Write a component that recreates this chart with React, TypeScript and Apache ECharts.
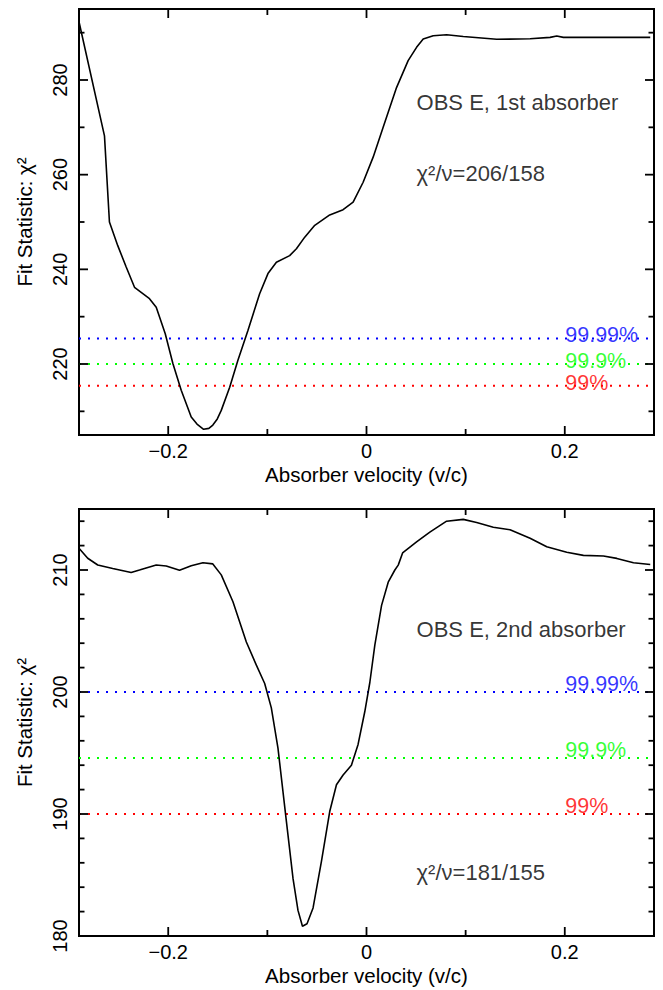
import React, { useEffect, useRef } from 'react';
import * as echarts from 'echarts';

// ---------- shared axis data ----------
const X_MIN = -0.29;
const X_MAX = 0.29;
const X_MAJOR = [-0.2, 0, 0.2];
const X_MINOR = [-0.1, 0.1];
const X_LABELS = [-0.2, 0, 0.2];
const X_NAME = 'Absorber velocity (v/c)';
const Y_NAME = 'Fit Statistic: χ²';

const LEVEL_NAMES = ['99%', '99.9%', '99.99%'];
const LEVEL_COLORS = ['#ff0000', '#00ff00', '#0000ff'];

// ---------- panel 1: 1st absorber ----------
const TOP_Y_MIN = 205;
const TOP_Y_MAX = 295;
const TOP_Y_MAJOR = [220, 240, 260, 280];
const TOP_Y_MINOR = [210, 230, 250, 270, 290];
const TOP_VEL = [
  -0.29, -0.2643, -0.2593, -0.2509, -0.2424, -0.234, -0.2189, -0.2121, -0.203, -0.1953,
  -0.1869, -0.1768, -0.171, -0.1643, -0.159, -0.155, -0.1505, -0.1465, -0.138, -0.1297,
  -0.1196, -0.1078, -0.0994, -0.0909, -0.0775, -0.0707, -0.0623, -0.0522, -0.0371, -0.0236,
  -0.0135, -0.0034, 0.0067, 0.0168, 0.0303, 0.042, 0.0505, 0.0572, 0.0673, 0.0808,
  0.0976, 0.1313, 0.165, 0.1852, 0.1919, 0.1986, 0.2323, 0.2862,
];
const TOP_CHI = [
  292.3, 268.2, 250.0, 245.0, 240.5, 236.2, 233.8, 232.0, 226.4, 220.1,
  214.45, 208.8, 207.3, 206.2, 206.4, 207.1, 208.4, 210.2, 215.1, 220.8,
  227.1, 234.85, 239.1, 241.5, 242.9, 244.35, 246.8, 249.3, 251.5, 252.6,
  254.2, 258.4, 263.7, 270.0, 278.4, 284.1, 286.9, 288.65, 289.35, 289.55,
  289.2, 288.6, 288.7, 289.0, 289.3, 289.0, 289.0, 289.0,
];
const TOP_LEVELS = [215.4, 220.0, 225.4];
const TOP_TITLE = 'OBS E, 1st absorber';
const TOP_FIT = 'χ²/ν=206/158';

// ---------- panel 2: 2nd absorber ----------
const BOT_Y_MIN = 180;
const BOT_Y_MAX = 215;
const BOT_Y_MAJOR = [180, 190, 200, 210];
const BOT_Y_MINOR = [182, 184, 186, 188, 192, 194, 196, 198, 202, 204, 206, 208, 212, 214];
const BOT_VEL = [
  -0.29, -0.2812, -0.2711, -0.256, -0.2374, -0.229, -0.2121, -0.202, -0.1886, -0.1768,
  -0.165, -0.155, -0.1465, -0.1347, -0.1212, -0.1111, -0.1027, -0.096, -0.0893, -0.0808,
  -0.0741, -0.0691, -0.0646, -0.06, -0.0539, -0.0455, -0.0371, -0.0303, -0.0236, -0.0152,
  -0.0085, -0.0017, 0.0034, 0.0084, 0.0152, 0.0219, 0.0286, 0.032, 0.0364, 0.0505,
  0.0639, 0.0808, 0.0976, 0.1111, 0.1279, 0.1448, 0.165, 0.1818, 0.202, 0.2188,
  0.239, 0.2525, 0.2693, 0.2862,
];
const BOT_CHI = [
  211.78, 210.96, 210.41, 210.13, 209.8, 210.0, 210.41, 210.33, 209.98, 210.35,
  210.6, 210.5, 209.6, 207.4, 204.1, 202.2, 200.7, 198.7, 195.4, 189.4,
  184.7, 182.1, 180.8, 181.0, 182.3, 186.1, 190.2, 192.4, 193.2, 194.0,
  195.7, 198.4, 200.8, 203.85, 207.1, 209.0, 210.0, 210.4, 211.4, 212.3,
  213.1, 214.0, 214.15, 213.9, 213.5, 213.3, 212.6, 211.9, 211.45, 211.2,
  211.15, 210.95, 210.6, 210.45,
];
const BOT_LEVELS = [190.0, 194.6, 200.0];
const BOT_TITLE = 'OBS E, 2nd absorber';
const BOT_FIT = 'χ²/ν=181/155';

// ---------- layout (not data) ----------
const FONT = 'Liberation Sans, Arial, Helvetica, sans-serif';
const NOTE_X = 0.05;
const LEVEL_LABEL_X = 0.2;
const MAJOR_LEN = 9;
const MINOR_LEN_X = 6;
const MINOR_LEN_Y = 5.5;
const TICK_W = 1.8;

type PanelCfg = {
  yMin: number; yMax: number; yMajor: number[]; yMinor: number[];
  vel: number[]; chi: number[]; levels: number[];
  title: string; fit: string; titleY: number; fitY: number; levelOffset: number;
};

function fmtX(v: number) {
  if (Math.abs(v) < 1e-9) return '0';
  return v < 0 ? '\u2212' + String(Math.abs(v)) : String(v);
}

// One custom series per frame edge: each item is one inward tick mark.
// edge: 'bottom' | 'top' | 'left' | 'right'
function tickSeries(g: number, cfg: PanelCfg, vals: number[], len: number, edge: string) {
  const midY = (cfg.yMin + cfg.yMax) / 2;
  const isX = edge === 'bottom' || edge === 'top';
  return {
    type: 'custom', xAxisIndex: g, yAxisIndex: g, clip: false, z: 10,
    data: vals.map((v) => (isX ? [v, midY] : [0, v])),
    renderItem: (_p: any, api: any) => {
      let x1 = 0, y1 = 0, x2 = 0, y2 = 0;
      if (isX) {
        const v = api.value(0);
        const p = api.coord([v, edge === 'bottom' ? cfg.yMin : cfg.yMax]);
        x1 = p[0]; y1 = p[1]; x2 = p[0];
        y2 = edge === 'bottom' ? p[1] - len : p[1] + len;
      } else {
        const v = api.value(1);
        const p = api.coord([edge === 'left' ? X_MIN : X_MAX, v]);
        x1 = p[0]; y1 = p[1]; y2 = p[1];
        x2 = edge === 'left' ? p[0] + len : p[0] - len;
      }
      return {
        type: 'line',
        shape: { x1, y1, x2, y2 },
        style: { stroke: '#000', lineWidth: TICK_W },
      };
    },
  };
}

function buildPanel(g: number, cfg: PanelCfg) {
  const xAxis = {
    gridIndex: g, type: 'value', min: X_MIN, max: X_MAX, position: 'bottom',
    splitLine: { show: false },
    axisLine: { show: true, onZero: false, lineStyle: { color: '#000', width: 2 } },
    axisTick: { show: false },
    axisLabel: {
      show: true, customValues: X_LABELS, formatter: fmtX, color: '#000', fontSize: 20,
      fontFamily: FONT, margin: 6,
    },
    name: X_NAME, nameLocation: 'middle', nameGap: 29, nameMoveOverlap: false,
    nameTextStyle: { color: '#000', fontSize: 20.5, fontFamily: FONT },
  };
  const yAxis = {
    gridIndex: g, type: 'value', min: cfg.yMin, max: cfg.yMax, position: 'left',
    splitLine: { show: false },
    axisLine: { show: true, onZero: false, lineStyle: { color: '#000', width: 2 } },
    axisTick: { show: false },
    axisLabel: {
      show: true, customValues: cfg.yMajor, rotate: 90, color: '#000', fontSize: 20,
      fontFamily: FONT, margin: 9,
    },
    name: Y_NAME, nameLocation: 'middle', nameGap: 44, nameMoveOverlap: false,
    nameTextStyle: { color: '#000', fontSize: 20.5, fontFamily: FONT },
  };

  const series: any[] = [];
  cfg.levels.forEach((lev, i) => {
    series.push({
      type: 'line', xAxisIndex: g, yAxisIndex: g, silent: true, symbol: 'none',
      data: [[X_MIN, lev], [X_MAX, lev]],
      lineStyle: { color: LEVEL_COLORS[i], width: 2, type: [2, 7], cap: 'butt' },
      z: 2,
    });
    series.push({
      type: 'scatter', xAxisIndex: g, yAxisIndex: g, silent: true,
      symbol: 'circle', symbolSize: 1, itemStyle: { color: 'rgba(0,0,0,0)' },
      data: [[LEVEL_LABEL_X, lev]],
      label: {
        show: true, position: 'right', distance: 0, offset: [0, cfg.levelOffset],
        formatter: LEVEL_NAMES[i], color: LEVEL_COLORS[i], fontSize: 21.5, fontFamily: FONT,
      },
      z: 4,
    });
  });
  series.push({
    type: 'line', xAxisIndex: g, yAxisIndex: g, silent: true, symbol: 'none',
    data: cfg.vel.map((v, i) => [v, cfg.chi[i]]),
    lineStyle: { color: '#000', width: 1.6 },
    z: 3,
  });
  series.push({
    type: 'scatter', xAxisIndex: g, yAxisIndex: g, silent: true,
    symbol: 'circle', symbolSize: 1, itemStyle: { color: 'rgba(0,0,0,0)' },
    data: [
      { value: [NOTE_X, cfg.titleY], name: cfg.title },
      { value: [NOTE_X, cfg.fitY], name: cfg.fit },
    ],
    label: {
      show: true, position: 'right', distance: 0, formatter: (p: any) => p.name,
      color: '#000', fontSize: 22, fontFamily: FONT,
    },
    z: 4,
  });
  series.push(tickSeries(g, cfg, X_MAJOR, MAJOR_LEN, 'bottom'));
  series.push(tickSeries(g, cfg, X_MAJOR, MAJOR_LEN, 'top'));
  series.push(tickSeries(g, cfg, X_MINOR, MINOR_LEN_X, 'bottom'));
  series.push(tickSeries(g, cfg, X_MINOR, MINOR_LEN_X, 'top'));
  series.push(tickSeries(g, cfg, cfg.yMajor, MAJOR_LEN, 'left'));
  series.push(tickSeries(g, cfg, cfg.yMajor, MAJOR_LEN, 'right'));
  series.push(tickSeries(g, cfg, cfg.yMinor, MINOR_LEN_Y, 'left'));
  series.push(tickSeries(g, cfg, cfg.yMinor, MINOR_LEN_Y, 'right'));
  return { xAxis, yAxis, series };
}

export default function App() {
  const ref = useRef<HTMLDivElement>(null);
  useEffect(() => {
    if (!ref.current) return;
    const chart = echarts.init(ref.current, undefined, { renderer: 'svg' });
    const cfg1: PanelCfg = {
      yMin: TOP_Y_MIN, yMax: TOP_Y_MAX, yMajor: TOP_Y_MAJOR, yMinor: TOP_Y_MINOR,
      vel: TOP_VEL, chi: TOP_CHI, levels: TOP_LEVELS, title: TOP_TITLE, fit: TOP_FIT,
      titleY: 275.2, fitY: 260.2, levelOffset: -3,
    };
    const cfg2: PanelCfg = {
      yMin: BOT_Y_MIN, yMax: BOT_Y_MAX, yMajor: BOT_Y_MAJOR, yMinor: BOT_Y_MINOR,
      vel: BOT_VEL, chi: BOT_CHI, levels: BOT_LEVELS, title: BOT_TITLE, fit: BOT_FIT,
      titleY: 205.1, fitY: 185.2, levelOffset: -8,
    };
    const p1 = buildPanel(0, cfg1);
    const p2 = buildPanel(1, cfg2);
    const gridBase = { show: true, borderColor: '#000', borderWidth: 2 };
    chart.setOption({
      animation: false,
      grid: [
        { ...gridBase, left: 79, top: 9, width: 575, height: 426 },
        { ...gridBase, left: 79, top: 509, width: 575, height: 427 },
      ],
      xAxis: [p1.xAxis, p2.xAxis],
      yAxis: [p1.yAxis, p2.yAxis],
      series: [...p1.series, ...p2.series],
    } as any);
    return () => chart.dispose();
  }, []);
  return (
    <div
      ref={ref}
      style={{ position: 'absolute', left: 0, top: 0, width: 663, height: 990 }}
    />
  );
}
